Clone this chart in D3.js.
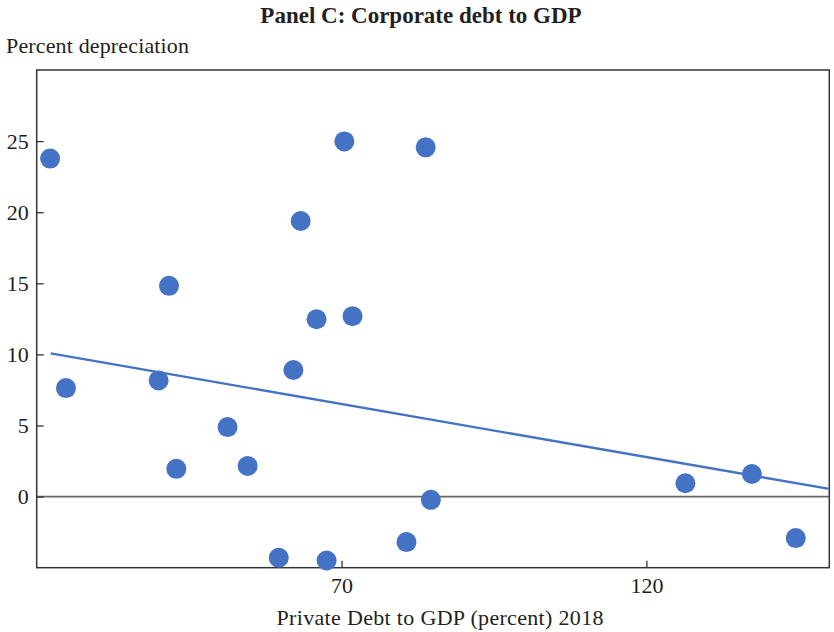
<!DOCTYPE html>
<html><head><meta charset="utf-8">
<script src="https://cdn.jsdelivr.net/npm/d3@7"></script>
<style>body{margin:0;background:#fff}svg{display:block}text{font-family:"Liberation Serif","Times New Roman",serif;fill:#231f20}</style>
</head><body><svg id="c" width="834" height="632"></svg>
<script>
const privateDebt = [22.2, 24.8, 41.7, 40.0, 42.9, 51.3, 54.6, 59.7, 62.1, 63.3, 65.9, 67.55, 70.46, 71.8, 80.65, 83.8, 84.65, 126.4, 137.3, 144.5];
const depreciation = [23.77, 7.63, 14.82, 8.17, 1.95, 4.89, 2.16, -4.30, 8.9, 19.38, 12.47, -4.49, 24.98, 12.69, -3.2, 24.56, -0.23, 0.94, 1.59, -2.92];
const trendX = [22.3, 150];
const trendY = [10.07, 0.54];
const xTicks = [70, 120];
const yTicks = [0, 5, 10, 15, 20, 25];

const svg = d3.select("#c");
const L = 36.7, R = 829.3, T = 70, B = 567.7;
const x = d3.scaleLinear().domain([20, 150]).range([L, R]);
const y = d3.scaleLinear().domain([-5, 30]).range([B, T]);
const blue = "#4472c4";

svg.append("text").attr("x", 421).attr("y", 23).attr("text-anchor", "middle")
  .attr("font-size", 23).attr("font-weight", "bold").text("Panel C: Corporate debt to GDP");
svg.append("text").attr("x", 6).attr("y", 53).attr("font-size", 22).attr("textLength", 183).text("Percent depreciation");
svg.append("text").attr("x", 440).attr("y", 625).attr("text-anchor", "middle")
  .attr("font-size", 22).attr("textLength", 327).text("Private Debt to GDP (percent) 2018");

// zero line
svg.append("line").attr("x1", L).attr("x2", R).attr("y1", y(0)).attr("y2", y(0))
  .attr("stroke", "#666").attr("stroke-width", 1.6);

// axes with inward ticks
const yAxis = d3.axisLeft(y).tickValues(yTicks).tickSize(-7).tickPadding(8).tickFormat(d3.format("d"));
const gy = svg.append("g").attr("transform", `translate(${L},0)`).call(yAxis);
const xAxis = d3.axisBottom(x).tickValues(xTicks).tickSize(-7).tickPadding(10).tickFormat(d3.format("d"));
const gx = svg.append("g").attr("transform", `translate(0,${B})`).call(xAxis);
[gx, gy].forEach(g => {
  g.select(".domain").remove();
  g.selectAll(".tick line").attr("stroke", "#333").attr("stroke-width", 1.3);
  g.selectAll(".tick text").attr("font-size", 22).attr("font-family", '"Liberation Serif",serif').attr("fill", "#231f20");
});

// frame
svg.append("rect").attr("x", L).attr("y", T).attr("width", R - L).attr("height", B - T)
  .attr("fill", "none").attr("stroke", "#333").attr("stroke-width", 1.5);

// trend line
svg.append("line").attr("x1", x(trendX[0])).attr("y1", y(trendY[0]))
  .attr("x2", x(trendX[1])).attr("y2", y(trendY[1]))
  .attr("stroke", blue).attr("stroke-width", 2.4);

// points
svg.append("g").selectAll("circle").data(privateDebt.map((d, i) => [d, depreciation[i]]))
  .join("circle").attr("cx", d => x(d[0])).attr("cy", d => y(d[1])).attr("r", 10).attr("fill", blue);
</script></body></html>
